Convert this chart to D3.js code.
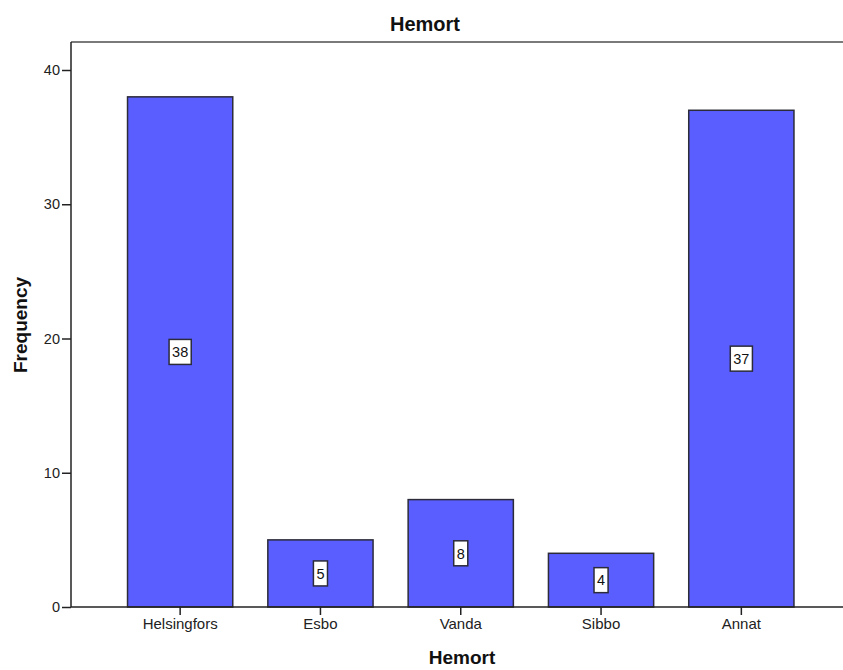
<!DOCTYPE html>
<html>
<head>
<meta charset="utf-8">
<script src="https://cdn.jsdelivr.net/npm/d3@7"></script>
<style>
  body { margin: 0; background: #fff; }
  svg { display: block; font-family: "Liberation Sans", Arial, sans-serif; }
</style>
</head>
<body>
<div id="chart"></div>
<script>
// chart data
const categories = ['Helsingfors', 'Esbo', 'Vanda', 'Sibbo', 'Annat'];
const frequencies = [38, 5, 8, 4, 37];
const yTicks = [0, 10, 20, 30, 40];
const chartTitle = 'Hemort';
const xTitle = 'Hemort';
const yTitle = 'Frequency';

const width = 843, height = 670;
const margin = {top: 42, left: 71, bottom: 63};

const svg = d3.select('#chart')
              .append('svg')
              .attr('width', width)
              .attr('height', height);

// scales
const x = d3.scaleBand()
            .domain(categories)
            .range([110, 811.5])
            .paddingInner(0.25)
            .paddingOuter(0.125);

const y = d3.scaleLinear()
            .domain([0, 40])
            .range([height - margin.bottom, 70]);

const y0 = y(0);

// top frame line
svg.append('line')
   .attr('x1', margin.left).attr('x2', width)
   .attr('y1', margin.top).attr('y2', margin.top)
   .attr('stroke', '#7a7a7a')
   .attr('stroke-width', 2);

// bars
svg.selectAll('.bar')
   .data(frequencies)
   .enter()
   .append('rect')
   .attr('class', 'bar')
   .attr('x', (d, i) => x(categories[i]))
   .attr('y', d => y(d))
   .attr('width', x.bandwidth())
   .attr('height', d => y0 - y(d))
   .attr('fill', '#5a5eff')
   .attr('stroke', '#2b2b3a')
   .attr('stroke-width', 1.5);

// y axis
const yAxis = svg.append('g')
   .attr('transform', `translate(${margin.left},0)`)
   .call(d3.axisLeft(y).tickValues(yTicks).tickSize(9).tickPadding(2));
yAxis.select('.domain')
   .attr('d', `M0,${margin.top}V${y0}`)
   .attr('stroke', '#222')
   .attr('stroke-width', 1.5);
yAxis.selectAll('.tick line').attr('stroke', '#222').attr('stroke-width', 1.5);
yAxis.selectAll('.tick text')
   .attr('font-size', 14.5)
   .attr('font-family', '"Liberation Sans", Arial, sans-serif')
   .attr('fill', '#222');

// x axis
const xAxis = svg.append('g')
   .attr('transform', `translate(0,${y0})`)
   .call(d3.axisBottom(x).tickSize(8).tickPadding(3));
xAxis.select('.domain')
   .attr('d', `M${margin.left},0H${width}`)
   .attr('stroke', '#222')
   .attr('stroke-width', 1.5);
xAxis.selectAll('.tick line').attr('stroke', '#222').attr('stroke-width', 1.5);
xAxis.selectAll('.tick text')
   .attr('font-size', 15)
   .attr('font-family', '"Liberation Sans", Arial, sans-serif')
   .attr('fill', '#222');

// value labels in white boxes
const labels = svg.selectAll('.val')
   .data(frequencies)
   .enter()
   .append('g')
   .attr('class', 'val')
   .attr('transform', (d, i) => `translate(${x(categories[i]) + x.bandwidth() / 2},${y(d / 2)})`);

labels.append('rect')
   .attr('fill', '#fff')
   .attr('stroke', '#2b2b3a')
   .attr('stroke-width', 1.5);

labels.append('text')
   .attr('text-anchor', 'middle')
   .attr('dy', '0.36em')
   .attr('font-size', 14.5)
   .attr('fill', '#111')
   .text(d => d);

labels.each(function() {
    const g = d3.select(this);
    const bb = g.select('text').node().getBBox();
    const w = bb.width + 6, h = 25;
    g.select('rect')
     .attr('x', -w / 2).attr('y', -h / 2)
     .attr('width', w).attr('height', h);
});

// titles
svg.append('text')
   .attr('x', 425).attr('y', 31)
   .attr('text-anchor', 'middle')
   .attr('font-size', 20)
   .attr('font-weight', 'bold')
   .attr('fill', '#111')
   .text(chartTitle);

svg.append('text')
   .attr('x', 462).attr('y', 664)
   .attr('text-anchor', 'middle')
   .attr('font-size', 19)
   .attr('font-weight', 'bold')
   .attr('fill', '#111')
   .text(xTitle);

svg.append('text')
   .attr('transform', 'translate(27,325) rotate(-90)')
   .attr('text-anchor', 'middle')
   .attr('font-size', 19)
   .attr('font-weight', 'bold')
   .attr('fill', '#111')
   .text(yTitle);
</script>
</body>
</html>
